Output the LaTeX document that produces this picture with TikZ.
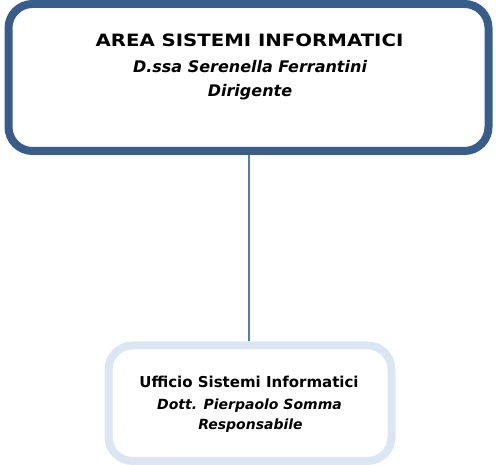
\documentclass[tikz,border=0pt]{standalone}
\usepackage{fontspec}
\setmainfont{DejaVu Sans}
\newfontfamily\widefont[FakeStretch=1.16]{DejaVu Sans}
\definecolor{topblue}{HTML}{385D8A}
\definecolor{lightblue}{HTML}{DCE6F2}
\definecolor{linkblue}{HTML}{4A7EBB}
\begin{document}
\begin{tikzpicture}[x=1pt,y=1pt,
  boxstyle/.style={rectangle, rounded corners=24pt, line width=8pt, outer sep=0pt, inner sep=0pt, fill=white},
  txt/.style={anchor=base, inner sep=0pt}]
\useasboundingbox (0,0) rectangle (496,465);
\node[boxstyle, draw=topblue, minimum width=480pt, minimum height=147pt] (topbox) at (248.5,387.5) {};
\node[boxstyle, draw=lightblue, minimum width=283pt, minimum height=115.5pt] (botbox) at (250,61.75) {};
\draw[linkblue, line width=1.5pt] ([yshift=-4pt]topbox.south -| 249,0) -- ([yshift=4pt]botbox.north -| 249,0);
\node[txt, font=\fontsize{17}{17}\widefont\bfseries] (t1) at (249.5,418) {AREA SISTEMI INFORMATICI};
\node[txt, font=\fontsize{16}{16}\selectfont\bfseries\itshape] (t2) at (250,392) {D.ssa Serenella Ferrantini};
\node[txt, font=\fontsize{16}{16}\selectfont\bfseries\itshape] (t3) at (250,368) {Dirigente};
\node[txt, font=\fontsize{15}{15}\selectfont\bfseries] (b1) at (249,77.5) {Ufficio Sistemi Informatici};
\node[txt, font=\fontsize{14}{14}\selectfont\bfseries\itshape] (b2) at (249.5,55) {Dott. Pierpaolo Somma};
\node[txt, font=\fontsize{14}{14}\selectfont\bfseries\itshape] (b3) at (250.5,35) {Responsabile};
\end{tikzpicture}
\end{document}
